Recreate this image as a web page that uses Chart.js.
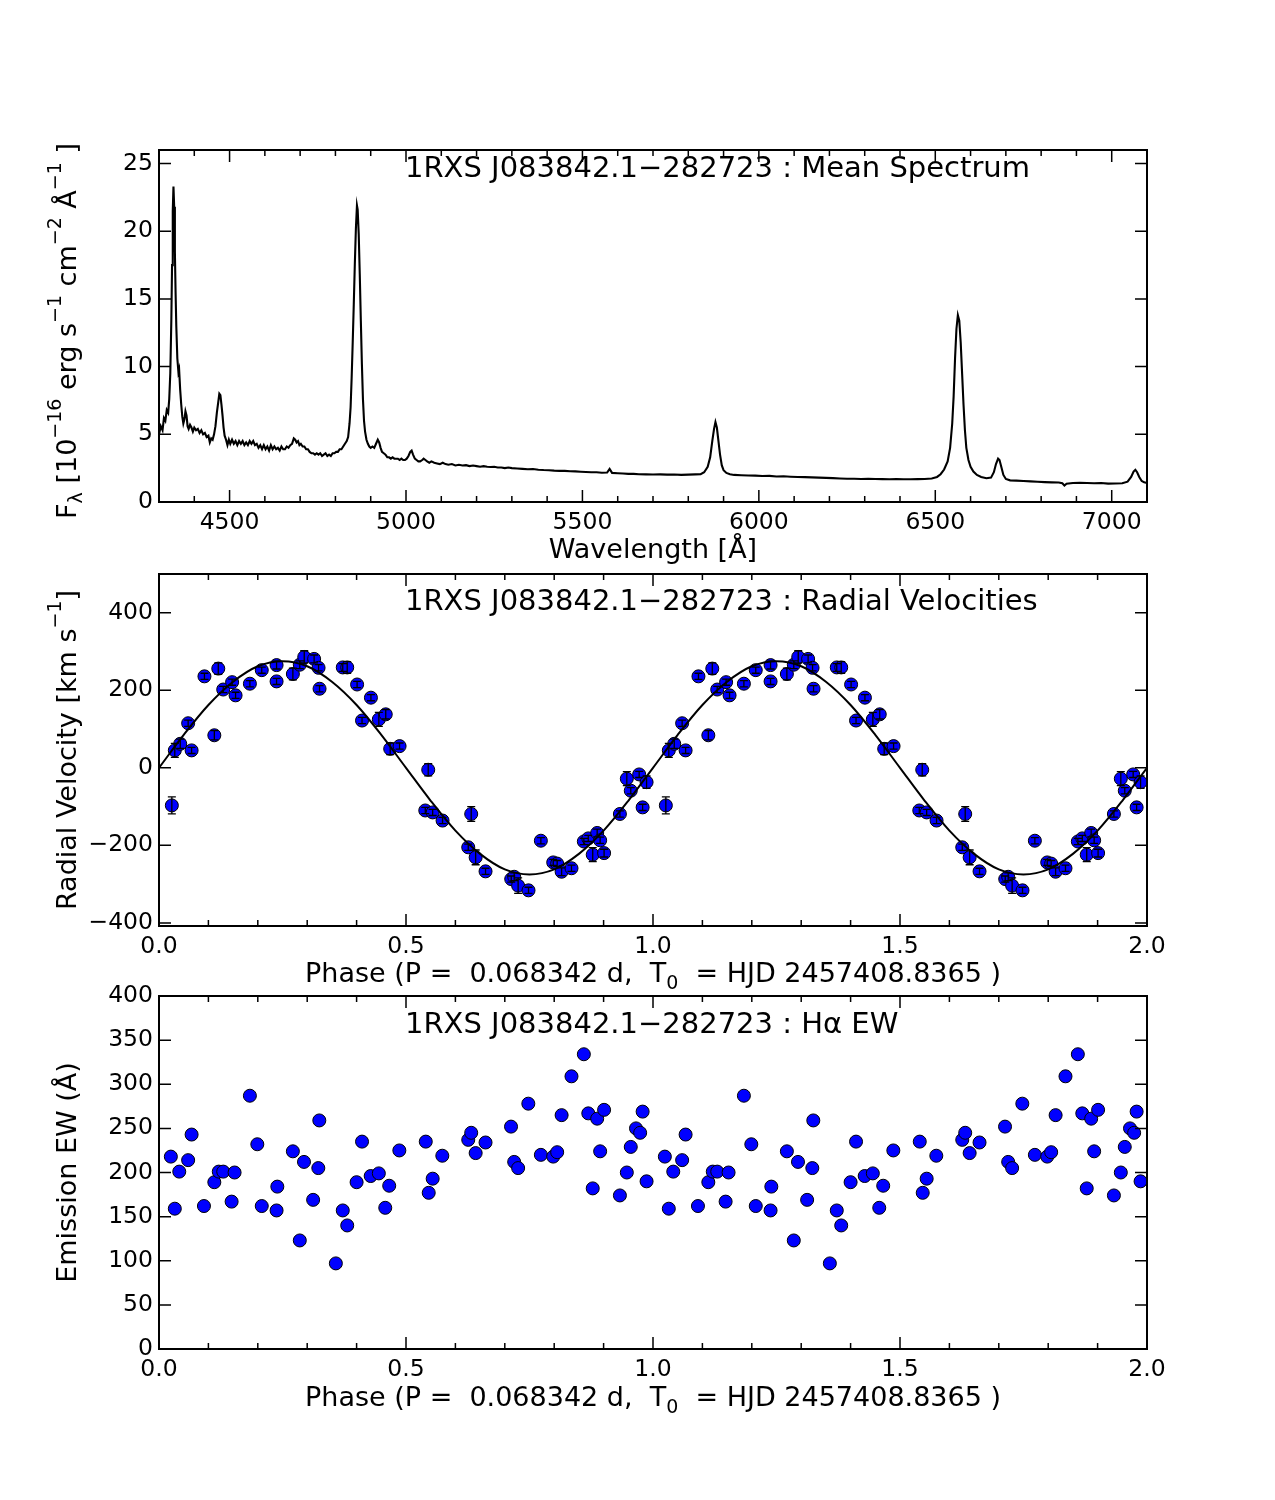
<!DOCTYPE html>
<html><head><meta charset="utf-8">
<script src="https://cdn.jsdelivr.net/npm/chart.js@4.4.1/dist/chart.umd.min.js"></script>
<style>
html,body{margin:0;padding:0;background:#fff;}
#wrap{position:relative;width:1275px;height:1500px;background:#fff;}
canvas{position:absolute;left:0;}
</style></head><body>
<div id="wrap">
<canvas id="c1" width="1275" height="570" style="top:0px;width:1275px;height:570px"></canvas>
<canvas id="c2" width="1275" height="450" style="top:550px;width:1275px;height:450px"></canvas>
<canvas id="c3" width="1275" height="480" style="top:970px;width:1275px;height:480px"></canvas>
</div>
<script>
// ---------------- DATA ----------------
const objectName = "1RXS J083842.1\u2212282723";
const period = "0.068342";
const t0 = "2457408.8365";

// Mean spectrum (wavelength in Å, flux in 1e-16 erg/s/cm2/Å)
const specWave = [4300,4305,4310,4314,4318,4322,4326,4329,4332,4335,4337,4339,4341,4343,4345,4347,4349,4352,4355,4357,4360,4363,4366,4369,4372,4375,4378,4381,4384,4388,4392,4396,4400,4405,4410,4415,4420,4425,4430,4435,4440,4444,4448,4452,4456,4460,4464,4468,4471,4474,4477,4480,4483,4486,4490,4494,4498,4502,4507,4512,4517,4522,4527,4532,4537,4542,4547,4552,4557,4562,4567,4572,4577,4582,4587,4592,4597,4602,4607,4612,4617,4622,4627,4632,4637,4642,4647,4652,4657,4662,4667,4672,4677,4682,4686,4690,4694,4698,4702,4707,4712,4717,4722,4727,4732,4737,4742,4747,4752,4757,4762,4767,4772,4777,4782,4787,4792,4797,4802,4807,4812,4817,4822,4827,4832,4836,4840,4843,4846,4849,4852,4855,4858,4861,4863,4866,4869,4872,4875,4878,4881,4884,4888,4892,4896,4900,4905,4910,4915,4920,4924,4928,4932,4937,4942,4947,4952,4957,4962,4967,4972,4977,4982,4987,4992,4997,5002,5007,5012,5016,5020,5025,5030,5035,5040,5046,5050,5055,5060,5066,5072,5080,5088,5096,5104,5112,5120,5130,5140,5150,5160,5170,5180,5190,5200,5210,5220,5230,5240,5250,5260,5270,5280,5290,5300,5315,5330,5345,5360,5375,5390,5405,5420,5435,5450,5465,5480,5495,5510,5525,5540,5555,5570,5577,5584,5600,5615,5630,5645,5660,5680,5700,5720,5740,5760,5780,5800,5820,5835,5845,5855,5862,5868,5873,5877,5881,5885,5890,5895,5900,5908,5918,5930,5950,5970,5990,6010,6030,6050,6070,6090,6110,6130,6150,6170,6190,6210,6230,6250,6270,6290,6310,6330,6350,6370,6390,6410,6430,6450,6470,6490,6505,6515,6525,6535,6542,6548,6552,6556,6560,6564,6568,6572,6576,6580,6584,6588,6594,6600,6608,6618,6630,6645,6658,6666,6672,6678,6682,6687,6693,6700,6712,6730,6750,6770,6790,6810,6830,6850,6860,6866,6872,6890,6910,6930,6950,6970,6990,7010,7030,7045,7055,7062,7067,7072,7078,7085,7092,7100];
const specFlux = [5.0,5.6,5.3,6.2,6.0,6.8,6.6,7.6,9.5,13.5,17.5,21.5,23.3,21.8,18.5,15.5,13.0,10.6,9.6,9.8,8.3,7.2,6.3,5.8,6.1,6.7,6.4,5.6,5.4,5.7,5.5,5.2,5.5,5.3,5.4,5.1,5.3,5.0,5.1,4.8,4.9,4.4,4.7,4.6,5.0,5.6,6.6,7.4,8.0,7.9,7.2,6.4,5.5,4.9,4.6,4.2,4.6,4.3,4.6,4.3,4.5,4.2,4.5,4.3,4.5,4.2,4.4,4.2,4.5,4.3,4.5,4.2,4.3,4.0,4.2,3.9,4.2,3.9,4.1,3.8,4.2,3.9,4.1,3.9,4.0,3.8,4.1,3.9,3.9,4.1,4.0,4.2,4.3,4.7,4.6,4.4,4.5,4.2,4.3,4.1,4.1,3.9,3.9,3.7,3.6,3.6,3.5,3.6,3.5,3.6,3.4,3.5,3.6,3.4,3.5,3.4,3.6,3.6,3.7,3.7,3.9,3.9,4.1,4.3,4.5,4.8,5.8,7.0,9.2,11.8,14.6,17.6,20.2,21.9,21.6,19.8,16.8,13.4,10.2,7.6,6.0,5.2,4.6,4.3,4.1,4.0,4.1,4.0,4.3,4.6,4.4,4.0,3.7,3.6,3.5,3.3,3.3,3.2,3.3,3.2,3.2,3.2,3.1,3.2,3.1,3.1,3.2,3.4,3.7,3.8,3.5,3.2,3.1,3.0,3.0,3.1,3.2,3.1,3.0,2.9,3.0,2.9,2.85,2.8,2.9,2.8,2.75,2.8,2.7,2.75,2.7,2.72,2.65,2.7,2.65,2.6,2.65,2.6,2.58,2.6,2.55,2.55,2.5,2.55,2.5,2.48,2.45,2.42,2.44,2.38,2.36,2.35,2.32,2.3,2.3,2.27,2.26,2.24,2.22,2.2,2.2,2.16,2.18,2.45,2.15,2.12,2.1,2.08,2.08,2.05,2.04,2.03,2.04,2.02,2.03,2.0,2.02,2.04,2.06,2.2,2.6,3.3,4.5,5.4,5.9,5.5,4.6,3.5,2.7,2.35,2.15,2.05,2.0,1.98,1.96,1.95,1.92,1.93,1.88,1.9,1.87,1.85,1.84,1.82,1.8,1.78,1.76,1.74,1.72,1.72,1.7,1.71,1.7,1.69,1.68,1.7,1.68,1.68,1.69,1.7,1.74,1.85,2.05,2.4,3.0,4.0,5.8,7.8,10.6,12.8,13.8,13.4,11.8,9.5,7.2,5.3,4.0,3.1,2.6,2.25,2.0,1.85,1.76,1.8,2.2,2.8,3.2,3.1,2.6,2.0,1.7,1.6,1.58,1.55,1.52,1.5,1.47,1.45,1.44,1.38,1.22,1.35,1.4,1.42,1.4,1.38,1.4,1.36,1.37,1.38,1.5,1.85,2.25,2.38,2.2,1.85,1.55,1.45,1.4];

// Radial velocities (phase 0-1; plotted at phase and phase+1)
const rvPhase = [0.026,0.032,0.043,0.059,0.066,0.092,0.112,0.120,0.130,0.148,0.155,0.184,0.208,0.238,0.238,0.271,0.285,0.294,0.314,0.323,0.325,0.372,0.381,0.401,0.411,0.429,0.445,0.459,0.468,0.487,0.545,0.539,0.554,0.574,0.632,0.626,0.641,0.661,0.713,0.719,0.727,0.748,0.773,0.798,0.806,0.815,0.835,0.860,0.869,0.887,0.893,0.878,0.901,0.933,0.947,0.955,0.972,0.987,0.979];
const rvVel   = [-97,45,62,115,45,236,84,256,202,221,187,217,252,265,223,242,266,286,281,258,204,259,259,215,122,181,125,138,49,56,-5,-110,-115,-136,-119,-205,-231,-267,-287,-281,-304,-316,-188,-244,-247,-268,-259,-190,-182,-168,-187,-224,-220,-119,-28,-59,-17,-37,-102];
const rvErr   = [22,18,12,8,8,8,12,15,8,8,8,8,8,10,8,15,10,16,10,8,8,10,15,8,8,8,18,12,15,8,16,8,8,8,19,8,19,8,8,10,20,8,8,8,8,10,8,8,8,10,8,18,10,8,18,8,8,16,8];

// Sinusoidal fit curve (phase 0-1)
const fitPhase = [0,0.05,0.10,0.15,0.20,0.25,0.30,0.35,0.40,0.45,0.50,0.55,0.60,0.65,0.70,0.75,0.80,0.85,0.90,0.95,1.00];
const fitVel   = [0,85,162,222,262,275,262,222,162,85,0,-85,-162,-222,-262,-275,-262,-222,-162,-85,0];

// H-alpha emission equivalent widths (phase 0-1)
const ewPhase = [0.024,0.032,0.041,0.059,0.066,0.091,0.112,0.121,0.130,0.147,0.153,0.184,0.199,0.208,0.238,0.2395,0.271,0.285,0.2935,0.312,0.3225,0.3245,0.358,0.372,0.381,0.400,0.411,0.4285,0.445,0.458,0.466,0.4865,0.540,0.546,0.554,0.5735,0.626,0.632,0.641,0.661,0.7126,0.719,0.727,0.7476,0.773,0.798,0.806,0.815,0.835,0.860,0.869,0.887,0.901,0.878,0.893,0.933,0.947,0.955,0.9656,0.974,0.979,0.987];
const ewVal   = [218,159,201,214,243,162,189,201,201,167,200,287,232,162,157,184,224,123,212,169,205,259,97,157,140,189,235,196,199,160,185,225,235,177,193,219,237,245,222,234,252,212,205,278,220,218,223,265,309,334,267,261,271,182,224,174,200,229,250,245,269,190];

// Tick labels
const specXLabels = [4500,5000,5500,6000,6500,7000];
const specYLabels = [0,5,10,15,20,25];
const phaseLabels = [0.0,0.5,1.0,1.5,2.0];
const rvYLabels = [-400,-200,0,200,400];
const ewYLabels = [0,50,100,150,200,250,300,350,400];

// ---------------- RENDERING ----------------
const FONT = '"DejaVu Sans", "Liberation Sans", sans-serif';
const TICKFONT = {family: FONT, size: 23.5};
const MINUS = '\u2212';
function fmtNum(v, dec) {
  const s = dec ? Math.abs(v).toFixed(dec) : String(Math.abs(Math.round(v)));
  return (v < 0 ? MINUS : '') + s;
}
function hasLabel(list, v) { return list.some(l => Math.abs(l - v) < 1e-6); }

function drawRich(ctx, segs, cx, cy, rotate) {
  ctx.save();
  ctx.translate(cx, cy);
  if (rotate) ctx.rotate(-Math.PI / 2);
  let total = 0;
  const ws = segs.map(s => { ctx.font = s.size + 'px ' + FONT; const w = ctx.measureText(s.t).width; total += w; return w; });
  let x = -total / 2;
  ctx.fillStyle = '#000'; ctx.textBaseline = 'alphabetic'; ctx.textAlign = 'left';
  segs.forEach((s, i) => { ctx.font = s.size + 'px ' + FONT; ctx.fillText(s.t, x, s.dy || 0); x += ws[i]; });
  ctx.restore();
}

function decoPlugin(cfg) {
  return {
    id: 'deco',
    afterDatasetsDraw(chart) {
      if (cfg.errors) cfg.errors(chart);
    },
    afterDraw(chart) {
      const ctx = chart.ctx, a = chart.chartArea;
      const xs = chart.scales.x, ys = chart.scales.y;
      ctx.save();
      ctx.strokeStyle = '#000';
      ctx.lineWidth = 1.5;
      ctx.beginPath();
      for (const t of xs.ticks) {
        const px = xs.getPixelForValue(t.value);
        const L = cfg.xMajor(t.value) ? 12 : 6;
        ctx.moveTo(px, a.bottom); ctx.lineTo(px, a.bottom - L);
        ctx.moveTo(px, a.top); ctx.lineTo(px, a.top + L);
      }
      for (const t of ys.ticks) {
        const py = ys.getPixelForValue(t.value);
        ctx.moveTo(a.left, py); ctx.lineTo(a.left + 12, py);
        ctx.moveTo(a.right, py); ctx.lineTo(a.right - 12, py);
      }
      ctx.stroke();
      ctx.lineWidth = 2;
      ctx.strokeRect(a.left, a.top, a.right - a.left, a.bottom - a.top);
      ctx.font = '29px ' + FONT; ctx.fillStyle = '#000';
      ctx.textAlign = 'left'; ctx.textBaseline = 'alphabetic';
      ctx.fillText(cfg.title, a.left + 0.25 * (a.right - a.left) - 1, cfg.titleY);
      drawRich(ctx, cfg.xlabel, (a.left + a.right) / 2, cfg.xlabelY, false);
      drawRich(ctx, cfg.ylabel, 76, (a.top + a.bottom) / 2 + (cfg.ylabelDy || 0), true);
      ctx.restore();
    }
  };
}

function baseOptions(xmin, xmax, xstep, xlabels, xdec, ymin, ymax, ystep, ylabels, xH) {
  return {
    responsive: false, animation: false, devicePixelRatio: 1,
    layout: {padding: {left: 0, right: 128, top: 0, bottom: 0}},
    plugins: {legend: {display: false}, tooltip: {enabled: false}, title: {display: false}},
    scales: {
      x: {
        type: 'linear', min: xmin, max: xmax,
        grid: {display: false, drawTicks: false, tickLength: 0}, border: {display: false},
        ticks: {stepSize: xstep, autoSkip: false, maxRotation: 0, minRotation: 0, includeBounds: false,
          padding: 7, color: '#000', font: TICKFONT,
          callback: v => hasLabel(xlabels, v) ? fmtNum(v, xdec) : ''},
        afterFit: s => { s.height = xH; }
      },
      y: {
        type: 'linear', min: ymin, max: ymax,
        grid: {display: false, drawTicks: false, tickLength: 0}, border: {display: false},
        ticks: {stepSize: ystep, autoSkip: false, includeBounds: false, padding: 6, color: '#000', font: TICKFONT,
          callback: v => hasLabel(ylabels, v) ? fmtNum(v, 0) : ''},
        afterFit: s => { s.width = 159; }
      }
    }
  };
}

// ---- Chart 1: spectrum ----
const specPts = specWave.map((w, i) => ({x: w, y: specFlux[i]}));
const o1 = baseOptions(4300, 7100, 100, specXLabels, 0, 0, 26, 5, specYLabels, 68);
o1.layout.padding.top = 150;
new Chart(document.getElementById('c1'), {
  type: 'scatter',
  data: {datasets: [{data: specPts, showLine: true, pointRadius: 0, borderColor: '#000', borderWidth: 2.1, tension: 0}]},
  options: o1,
  plugins: [decoPlugin({
    xMajor: v => Math.abs(v / 500 - Math.round(v / 500)) < 1e-6,
    title: objectName + ' : Mean Spectrum', titleY: 177,
    xlabel: [{t: 'Wavelength [\u00C5]', size: 27}], xlabelY: 558,
    ylabel: [{t: 'F', size: 27}, {t: '\u03BB', size: 19, dy: 6}, {t: ' [10', size: 27}, {t: MINUS + '16', size: 19, dy: -15},
             {t: ' erg s', size: 27}, {t: MINUS + '1', size: 19, dy: -15}, {t: ' cm', size: 27}, {t: MINUS + '2', size: 19, dy: -15},
             {t: ' \u00C5', size: 27}, {t: MINUS + '1', size: 19, dy: -15}, {t: ' ]', size: 27}],
    ylabelDy: 5
  })]
});

// ---- Chart 2: radial velocities ----
const rvPts = [], rvErrPts = [];
for (const k of [0, 1]) rvPhase.forEach((p, i) => { rvPts.push({x: p + k, y: rvVel[i]}); rvErrPts.push({x: p + k, y: rvVel[i], e: rvErr[i]}); });
const fitPts = [];
for (const k of [0, 1]) fitPhase.forEach((p, i) => { if (k === 1 && i === 0) return; fitPts.push({x: p + k, y: fitVel[i]}); });
const phaseSegs = [{t: 'Phase (P =  ' + period + ' d,  T', size: 27}, {t: '0', size: 19, dy: 7}, {t: '  = HJD ' + t0 + ' )', size: 27}];
const o2 = baseOptions(0, 2, 0.1, phaseLabels, 1, -408, 500, 200, rvYLabels, 74);
o2.layout.padding.top = 24;
new Chart(document.getElementById('c2'), {
  type: 'scatter',
  data: {datasets: [
    {data: fitPts, showLine: true, pointRadius: 0, borderColor: '#000', borderWidth: 2, cubicInterpolationMode: 'monotone'},
    {data: rvPts, pointRadius: 6.5, pointBackgroundColor: '#0000ff', pointBorderColor: '#000', pointBorderWidth: 1}
  ]},
  options: o2,
  plugins: [decoPlugin({
    xMajor: v => Math.abs(v * 2 - Math.round(v * 2)) < 1e-6,
    title: objectName + ' : Radial Velocities', titleY: 60,
    xlabel: phaseSegs, xlabelY: 432,
    ylabel: [{t: 'Radial Velocity [km s', size: 27}, {t: MINUS + '1', size: 19, dy: -15}, {t: ']', size: 27}],
    errors: chart => {
      const ctx = chart.ctx, xs = chart.scales.x, ys = chart.scales.y, a = chart.chartArea;
      ctx.save();
      ctx.beginPath(); ctx.rect(a.left, a.top, a.right - a.left, a.bottom - a.top); ctx.clip();
      ctx.strokeStyle = '#000'; ctx.lineWidth = 1.3;
      ctx.beginPath();
      for (const p of rvErrPts) {
        const px = xs.getPixelForValue(p.x);
        const y1 = ys.getPixelForValue(p.y + p.e), y2 = ys.getPixelForValue(p.y - p.e);
        ctx.moveTo(px, y1); ctx.lineTo(px, y2);
        ctx.moveTo(px - 4, y1); ctx.lineTo(px + 4, y1);
        ctx.moveTo(px - 4, y2); ctx.lineTo(px + 4, y2);
      }
      ctx.stroke();
      ctx.restore();
    }
  })]
});

// ---- Chart 3: H-alpha EW ----
const ewPts = [];
for (const k of [0, 1]) ewPhase.forEach((p, i) => ewPts.push({x: p + k, y: ewVal[i]}));
const o3 = baseOptions(0, 2, 0.1, phaseLabels, 1, 0, 400, 50, ewYLabels, 101);
o3.layout.padding.top = 26;
new Chart(document.getElementById('c3'), {
  type: 'scatter',
  data: {datasets: [{data: ewPts, pointRadius: 6.5, pointBackgroundColor: '#0000ff', pointBorderColor: '#000', pointBorderWidth: 1}]},
  options: o3,
  plugins: [decoPlugin({
    xMajor: v => Math.abs(v * 2 - Math.round(v * 2)) < 1e-6,
    title: objectName + ' : H\u03B1 EW', titleY: 63,
    xlabel: phaseSegs, xlabelY: 436,
    ylabel: [{t: 'Emission EW (\u00C5)', size: 27}]
  })]
});
</script>
</body></html>
